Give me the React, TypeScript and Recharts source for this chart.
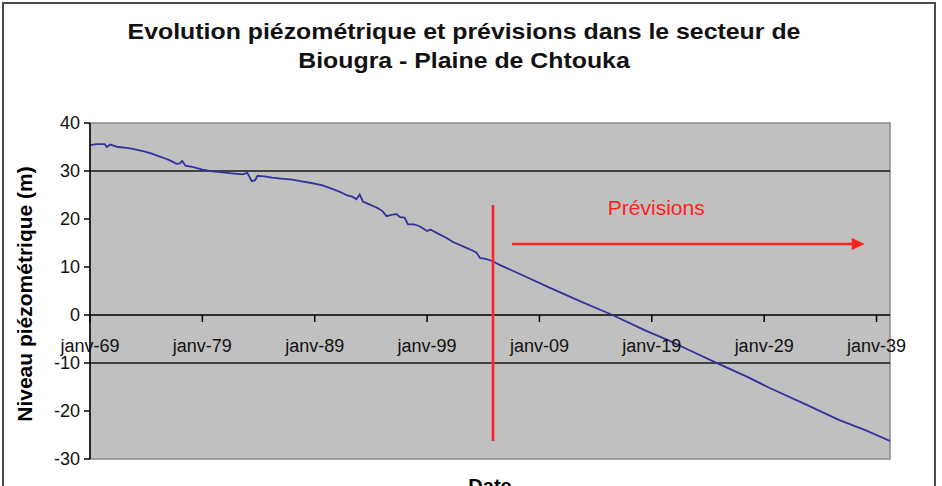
import React from "react";
import {
  ComposedChart, Line, XAxis, YAxis, CartesianGrid,
  ReferenceLine, ReferenceArea, ReferenceDot,
} from "recharts";

// decimal years and piezometric level (m)
const years = [
  1969.0, 1969.6, 1970.3, 1970.5, 1970.8, 1971.5, 1972.3, 1973.0, 1973.8, 1974.5,
  1975.1, 1975.7, 1976.2, 1976.7, 1977.0, 1977.2, 1977.5, 1978.2, 1979.0, 1979.9,
  1980.8, 1981.6, 1982.6, 1983.0, 1983.4, 1983.7, 1983.9, 1984.5, 1985.2, 1986.0,
  1987.0, 1987.7, 1988.7, 1989.7, 1990.3, 1991.2, 1991.9, 1992.4, 1992.7, 1993.0,
  1993.3, 1993.5, 1994.5, 1995.0, 1995.4, 1995.9, 1996.3, 1996.6, 1997.0, 1997.3,
  1997.8, 1998.1, 1998.4, 1999.0, 1999.3, 2000.1, 2000.7, 2001.3, 2002.0, 2002.5,
  2003.0, 2003.4, 2003.7, 2004.2, 2004.8, 2005.5, 2007.3, 2009.9, 2012.6, 2015.5,
  2018.5, 2020.5, 2022.4, 2025.05, 2027.5, 2029.5, 2032.5, 2035.7, 2038.0, 2040.2,
];
const levels = [
  35.4, 35.6, 35.6, 35.0, 35.5, 35.0, 34.8, 34.5, 34.1, 33.6,
  33.1, 32.6, 32.1, 31.5, 31.6, 32.1, 31.1, 30.8, 30.3, 29.9,
  29.7, 29.5, 29.3, 29.6, 27.9, 28.1, 29.0, 28.9, 28.6, 28.4,
  28.2, 27.9, 27.5, 27.0, 26.5, 25.7, 24.9, 24.6, 24.1, 25.1,
  23.6, 23.4, 22.4, 21.7, 20.6, 20.9, 21.0, 20.4, 20.3, 18.9,
  18.9, 18.7, 18.4, 17.5, 17.8, 16.8, 16.1, 15.2, 14.5, 14.0,
  13.5, 13.0, 11.9, 11.7, 11.25, 10.4, 8.5, 5.7, 2.9, 0,
  -3.3, -5.3, -7.4, -10.3, -12.9, -15.2, -18.4, -21.9, -24.0, -26.25,
];

const xTicks = [1969, 1979, 1989, 1999, 2009, 2019, 2029, 2039];
const xTickLabels = ["janv-69", "janv-79", "janv-89", "janv-99", "janv-09", "janv-19", "janv-29", "janv-39"];
const yTicks = [-30, -20, -10, 0, 10, 20, 30, 40];
const gridLevels = [30, -10];

// forecast marker and arrow
const splitYear = 2004.87;
const splitFrom = 22.9;
const splitTo = -26.25;
const arrowStart = 2006.55;
const arrowEnd = 2037.0;
const arrowTip = 2037.95;
const arrowLevel = 14.8;
const forecastLabel = "Prévisions";
const forecastLabelAt = { x: 2019.4, y: 22.5 };

const X_DOMAIN: [number, number] = [1969, 2040.2];
const Y_DOMAIN: [number, number] = [-30, 40];

const W = 942;
const H = 486;
const TOP = 123;
const RIGHT = 52;
const Y_AXIS_W = 90;
const X_AXIS_H = 27;
const PLOT_H = H - TOP - X_AXIS_H;

const FONT = '"Liberation Sans", Arial, Helvetica, sans-serif';
const RED = "#ff2020";
const NAVY = "#33339a";

const data = years.map((y, i) => ({ year: y, level: levels[i] }));

// x labels sit under the zero line, not at the bottom of the plot
const zeroY = TOP + ((Y_DOMAIN[1] - 0) / (Y_DOMAIN[1] - Y_DOMAIN[0])) * PLOT_H;

// eslint-disable-next-line @typescript-eslint/no-explicit-any
function ZeroTick({ x, payload }: any) {
  const idx = xTicks.indexOf(payload.value);
  return (
    <g>
      <line x1={x} x2={x} y1={zeroY} y2={zeroY + 7} stroke="#000" strokeWidth={1.5} />
      <text x={x} y={zeroY + 31} textAnchor="middle" dominantBaseline="central"
        fontFamily={FONT} fontSize={18} fill="#111">
        {idx >= 0 ? xTickLabels[idx] : ""}
      </text>
    </g>
  );
}

// eslint-disable-next-line @typescript-eslint/no-explicit-any
function YTitle({ viewBox }: any) {
  const cx = 24;
  const cy = viewBox.y + viewBox.height / 2 + 3;
  return (
    <text x={cx} y={cy} transform={`rotate(-90 ${cx} ${cy})`} textAnchor="middle"
      dominantBaseline="central" fontFamily={FONT} fontWeight="bold" fontSize={21} fill="#000">
      Niveau piézométrique (m)
    </text>
  );
}

export default function App() {
  return (
    <div style={{ position: "absolute", left: 0, top: 0, width: W, height: H, overflow: "hidden", background: "#fff" }}>
      <div style={{ position: "absolute", left: 2, top: 2, width: 930, height: 520, border: "2px solid #4a4a4a" }} />
      <div style={{
        position: "absolute", left: 0, width: 928, top: 17, textAlign: "center",
        fontFamily: FONT, fontWeight: "bold", fontSize: 22, lineHeight: "29px", color: "#111",
        transform: "scaleX(1.13)", transformOrigin: "464px 0",
      }}>
        Evolution piézométrique et prévisions dans le secteur de<br />
        Biougra - Plaine de Chtouka
      </div>
      <div style={{ position: "absolute", left: 0, top: 0 }}>
        <ComposedChart width={W} height={H} data={data}
          margin={{ top: TOP, right: RIGHT, bottom: 0, left: 0 }}>
          <CartesianGrid horizontal={false} vertical={false} fill="#c0c0c0" fillOpacity={1} />
          <ReferenceArea x1={X_DOMAIN[0]} x2={X_DOMAIN[1]} y1={Y_DOMAIN[0]} y2={Y_DOMAIN[1]}
            fill="none" stroke="#8a8a8a" strokeWidth={1.5} />
          {gridLevels.map((g) => (
            <ReferenceLine key={g} y={g} stroke="#1a1a1a" strokeWidth={1.4} />
          ))}
          <ReferenceLine y={0} stroke="#000" strokeWidth={1.6} />
          <XAxis dataKey="year" type="number" domain={X_DOMAIN} ticks={xTicks} interval={0}
            allowDataOverflow axisLine={false} tickLine={false} tick={<ZeroTick />} height={X_AXIS_H}
            label={{ value: "Date", position: "insideTop", offset: 20, fontFamily: FONT, fontWeight: "bold", fontSize: 20, fill: "#000" }} />
          <YAxis type="number" domain={Y_DOMAIN} ticks={yTicks} interval={0} width={Y_AXIS_W}
            allowDataOverflow axisLine={{ stroke: "#000", strokeWidth: 1.5 }} tickLine={{ stroke: "#000", strokeWidth: 1.5 }}
            tickSize={6} tickMargin={4}
            tick={{ fontFamily: FONT, fontSize: 18, fill: "#111" }}
            label={{ content: <YTitle /> }} />
          <Line type="linear" dataKey="level" stroke={NAVY} strokeWidth={1.8} dot={false}
            activeDot={false} isAnimationActive={false} />
          <ReferenceLine segment={[{ x: splitYear, y: splitFrom }, { x: splitYear, y: splitTo }]}
            stroke={RED} strokeWidth={2.6} />
          <ReferenceLine segment={[{ x: arrowStart, y: arrowLevel }, { x: arrowEnd, y: arrowLevel }]}
            stroke={RED} strokeWidth={2.6} />
          <ReferenceDot x={arrowTip} y={arrowLevel} r={0}
            // eslint-disable-next-line @typescript-eslint/no-explicit-any
            shape={(p: any) => (
              <polygon points={`${p.cx},${p.cy} ${p.cx - 13},${p.cy - 6} ${p.cx - 13},${p.cy + 6}`} fill={RED} />
            )} />
          <ReferenceDot x={forecastLabelAt.x} y={forecastLabelAt.y} r={0}
            // eslint-disable-next-line @typescript-eslint/no-explicit-any
            shape={(p: any) => (
              <text x={p.cx} y={p.cy} textAnchor="middle" dominantBaseline="central"
                fontFamily={FONT} fontSize={21} fill={RED}>{forecastLabel}</text>
            )} />
        </ComposedChart>
      </div>
    </div>
  );
}
